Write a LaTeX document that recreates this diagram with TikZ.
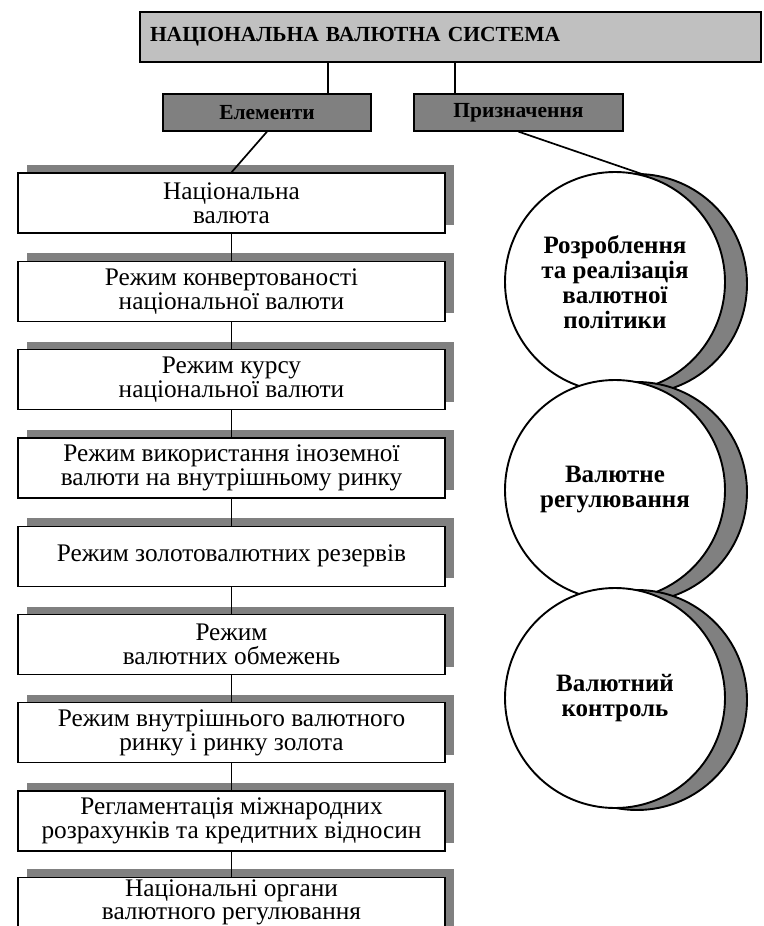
\documentclass[tikz,border=0pt]{standalone}
\usepackage{fontspec}
\setmainfont{Liberation Serif}
\usetikzlibrary{positioning, shadows}
\definecolor{nvslightgray}{RGB}{192, 192, 192}
\definecolor{nvsdarkgray} {RGB}{128, 128, 128}

\tikzset{
	headbox/.style={draw, line width=1.3pt, fill=nvslightgray, minimum height=50pt,
		text width=601pt, inner xsep=10pt, align=left, font=\fontsize{21.5}{24}\selectfont\bfseries},
	groupbox/.style={draw, line width=1.3pt, fill=nvsdarkgray, minimum height=37pt,
		font=\fontsize{21.5}{24}\selectfont\bfseries},
	elembox/.style={draw, line width=1.3pt, fill=white, minimum width=427pt, minimum height=60pt,
		inner sep=0pt, align=center, font=\fontsize{25.3}{24}\selectfont,
		drop shadow={shadow xshift=9pt, shadow yshift=8pt, fill=nvsdarkgray, opacity=1}},
	goalcircle/.style={circle, draw, line width=1.9pt, fill=white, minimum size=220pt,
		inner sep=0pt, align=center, font=\fontsize{25}{25}\selectfont\bfseries,
		drop shadow={shadow xshift=22pt, shadow yshift=-2pt, fill=nvsdarkgray,
			draw=black, line width=1.9pt, opacity=1}},
	link/.style={line width=1.7pt}
}

\begin{document}
\begin{tikzpicture}[x=1pt, y=-1pt]
	\useasboundingbox (0,0) rectangle (763,926);
	% header
	\node[headbox] (nvs) at (450.5,37) {НАЦІОНАЛЬНА ВАЛЮТНА СИСТЕМА};
	\node[groupbox, minimum width=208pt] (elem) at (267,112.5) {Елементи};
	\node[groupbox, minimum width=209pt] (purp) at (518.5,112.5) {Призначення};
	\draw[link] ([xshift=61pt]elem.north) -- ([xshift=61pt]elem.north |- nvs.south);
	\draw[link] ([xshift=-63.5pt]purp.north) -- ([xshift=-63.5pt]purp.north |- nvs.south);

	% elements
	\node[elembox] (b1) at (231.5,203) {Національна\\валюта};
	\node[elembox, below=27pt of b1] (b2) {Режим конвертованості\\національної валюти};
	\node[elembox, below=27pt of b2] (b3) {Режим курсу\\національної валюти};
	\node[elembox, below=27pt of b3] (b4) {Режим використання іноземної\\валюти на внутрішньому ринку};
	\node[elembox, below=27pt of b4] (b5) {Режим золотовалютних резервів};
	\node[elembox, below=27pt of b5] (b6) {Режим\\валютних обмежень};
	\node[elembox, below=27pt of b6] (b7) {Режим внутрішнього валютного\\ринку і ринку золота};
	\node[elembox, below=27pt of b7] (b8) {Регламентація міжнародних\\розрахунків та кредитних відносин};
	\node[elembox, below=25pt of b8, text depth=15pt] (b9) {Національні органи\\[-1pt]валютного регулювання};
	\draw[link] (elem.south) -- (b1.north);
	\draw[link] (b1) -- (b2);
	\draw[link] (b2) -- (b3);
	\draw[link] (b3) -- (b4);
	\draw[link] (b4) -- (b5);
	\draw[link] (b5) -- (b6);
	\draw[link] (b6) -- (b7);
	\draw[link] (b7) -- (b8);
	\draw[link] (b8) -- (b9);

	% purposes
	\node[goalcircle] (c1) at (615,282) {Розроблення\\та реалізація\\валютної\\політики};
	\node[goalcircle] (c2) at (615,490) {Валютне\\регулювання};
	\node[goalcircle] (c3) at (615,698) {Валютний\\контроль};
	\draw[link] (purp.south) -- (c1.73);
\end{tikzpicture}
\end{document}
